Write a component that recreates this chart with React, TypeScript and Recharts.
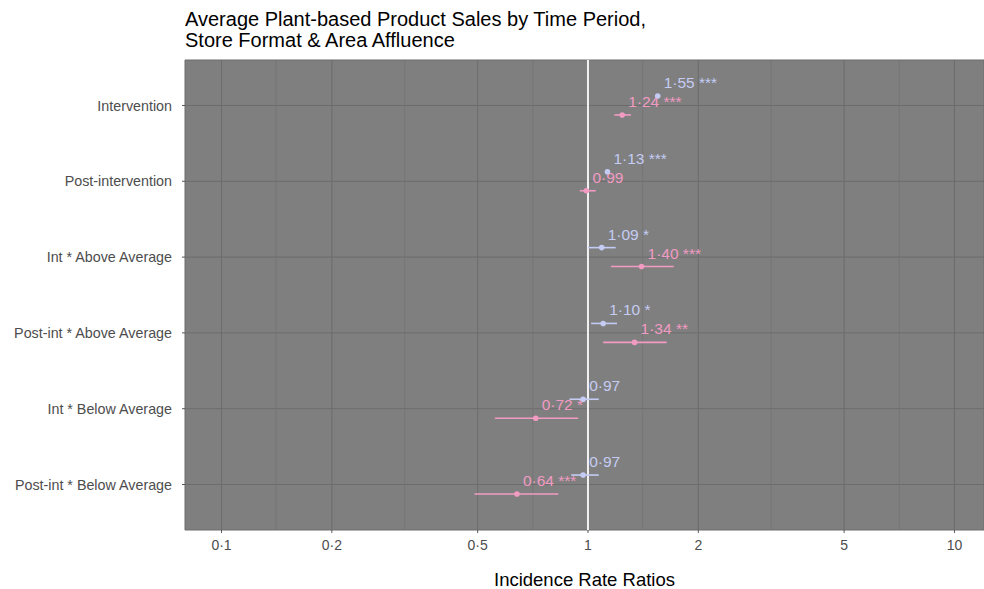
import { ComposedChart, Scatter, XAxis, YAxis, CartesianGrid, ErrorBar, ReferenceLine } from 'recharts';

// model terms, top to bottom
const terms = [
  'Intervention',
  'Post-intervention',
  'Int * Above Average',
  'Post-int * Above Average',
  'Int * Below Average',
  'Post-int * Below Average',
];

// lavender series (upper dodge)
const lavIrr = [1.55, 1.13, 1.09, 1.10, 0.97, 0.97];
const lavLow = [1.53, 1.12, 1.0, 1.02, 0.89, 0.9];
const lavHigh = [1.57, 1.14, 1.19, 1.2, 1.07, 1.07];
const lavStars = ['***', '***', '*', '*', '', ''];

// pink series (lower dodge)
const pinkIrr = [1.24, 0.99, 1.40, 1.34, 0.72, 0.64];
const pinkLow = [1.18, 0.95, 1.155, 1.1, 0.557, 0.49];
const pinkHigh = [1.31, 1.05, 1.715, 1.64, 0.94, 0.83];
const pinkStars = ['***', '', '***', '**', '*', '***'];

const xTicks = [0.1, 0.2, 0.5, 1, 2, 5, 10];
const minorTicks = [0.141, 0.316, 0.707, 1.41, 3.16, 7.07];
const rowTicks = [1, 2, 3, 4, 5, 6];

const LAV = '#C5CCF4';
const PINK = '#F19BC3';
const FONT = '"Liberation Sans", Arial, sans-serif';
const DODGE = 0.125;

const fmt = (v: number) => String(v).replace('.', '\u00B7');
const fmt2 = (v: number) => v.toFixed(2).replace('.', '\u00B7');

const buildRows = (irr: number[], lo: number[], hi: number[], stars: string[], shift: number) =>
  irr.map((v, i) => ({
    term: terms[i],
    pos: i + 1 + shift,
    irr: v,
    err: [v - lo[i], hi[i] - v],
    label: stars[i] ? `${fmt2(v)} ${stars[i]}` : fmt2(v),
  }));

const lavData = buildRows(lavIrr, lavLow, lavHigh, lavStars, -DODGE);
const pinkData = buildRows(pinkIrr, pinkLow, pinkHigh, pinkStars, DODGE);

const makeShape = (color: string) => (props: any) => {
  const { cx, cy, payload } = props;
  if (cx == null || cy == null) return <g />;
  return (
    <g>
      <circle cx={cx} cy={cy} r={2.8} fill={color} />
      <text x={cx + 6} y={cy - 8} fill={color} fontSize={15.5} fontFamily={FONT}>
        {payload.label}
      </text>
    </g>
  );
};

export default function App() {
  return (
    <div style={{ position: 'absolute', left: 0, top: 0, width: 984, height: 589, background: '#fff', fontFamily: FONT }}>
      <div
        style={{
          position: 'absolute',
          left: 185,
          top: 9,
          fontSize: 20,
          lineHeight: '21px',
          color: '#000',
          zIndex: 2,
        }}
      >
        Average Plant-based Product Sales by Time Period,
        <br />
        Store Format &amp; Area Affluence
      </div>
      <ComposedChart width={984} height={589} margin={{ top: 60, right: 0, bottom: 0, left: 0 }}>
        <CartesianGrid fill="#7F7F7F" fillOpacity={1} stroke="#6C6C6C" strokeWidth={1} />
        {minorTicks.map((t) => (
          <ReferenceLine key={t} x={t} stroke="#747474" strokeWidth={0.8} />
        ))}
        <XAxis
          type="number"
          dataKey="irr"
          scale="log"
          domain={[0.0795, 12.04]}
          allowDataOverflow
          ticks={xTicks}
          interval={0}
          tickFormatter={fmt}
          height={59}
          axisLine={false}
          tickSize={3}
          tickMargin={7}
          tickLine={{ stroke: '#555' }}
          tick={{ fill: '#4D4D4D', fontSize: 14, fontFamily: FONT }}
          label={{ value: 'Incidence Rate Ratios', position: 'insideBottom', offset: 3, fill: '#000', fontSize: 18.5, fontFamily: FONT }}
        />
        <YAxis
          type="number"
          dataKey="pos"
          domain={[0.4, 6.6]}
          reversed
          ticks={rowTicks}
          interval={0}
          tickFormatter={(v: number) => terms[v - 1] ?? ''}
          width={185}
          axisLine={false}
          tickSize={3}
          tickMargin={10}
          tickLine={{ stroke: '#555' }}
          tick={{ fill: '#4D4D4D', fontSize: 14.3, fontFamily: FONT }}
        />
        <ReferenceLine x={1} stroke="#F2F2F2" strokeWidth={2} />
        <Scatter data={pinkData} dataKey="irr" fill={PINK} shape={makeShape(PINK)} isAnimationActive={false}>
          <ErrorBar dataKey="err" direction="x" width={0} stroke={PINK} strokeWidth={1.6} />
        </Scatter>
        <Scatter data={lavData} dataKey="irr" fill={LAV} shape={makeShape(LAV)} isAnimationActive={false}>
          <ErrorBar dataKey="err" direction="x" width={0} stroke={LAV} strokeWidth={1.6} />
        </Scatter>
      </ComposedChart>
    </div>
  );
}
